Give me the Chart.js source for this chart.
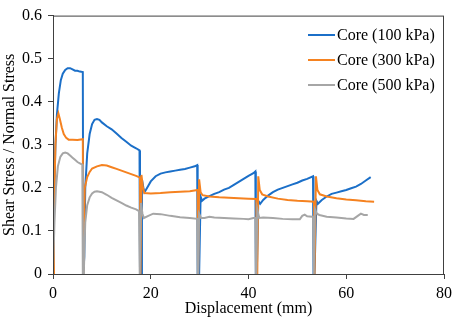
<!DOCTYPE html>
<html>
<head>
<meta charset="utf-8">
<script src="https://cdn.jsdelivr.net/npm/chart.js@4"></script>
<style>
  html, body { margin: 0; padding: 0; background: #fff; }
  .fontprobe { font-family: "Liberation Serif"; position: absolute; left: -999px; top: 0; }
</style>
</head>
<body>
<span class="fontprobe">Core 0.1</span>
<canvas id="shearChart" width="457" height="320"></canvas>
<script>
// Displacement (mm) vs shear stress / normal stress
const seriesLabels = ["Core (100 kPa)", "Core (300 kPa)", "Core (500 kPa)"];
const seriesColors = ["#1b6fc8", "#f58220", "#a6a6a6"];

const xTicks = [0, 20, 40, 60, 80];
const yTicks = ["0", "0.1", "0.2", "0.3", "0.4", "0.5", "0.6"];

const core100X = [0, 0.2, 0.5, 0.8, 1.2, 1.6, 2.0, 2.5, 3.0, 3.5, 4.0, 4.5, 5.0, 5.5, 6.1, 6.2,
  6.3, 6.4, 6.6, 7.0, 7.5, 8.0, 8.5, 9.0, 9.5, 10, 11, 12, 13, 14, 15, 16, 17, 17.7, 17.8,
  18.1, 18.2, 18.5, 18.7, 19, 19.5, 20, 21, 22, 23, 24, 25, 26, 27, 28, 29, 29.5, 29.6,
  29.9, 30.2, 30.5, 31, 32, 33, 34, 35, 36, 37, 38, 39, 40, 41, 41.4, 41.5,
  41.7, 42.0, 42.4, 43, 44, 45, 46, 47, 48, 49, 50, 51, 52, 53.2, 53.3,
  53.5, 53.9, 54.2, 55, 56, 57, 58, 59, 60, 61, 62, 63, 64, 65];
const core100Y = [0, 0.17, 0.3, 0.37, 0.42, 0.45, 0.465, 0.474, 0.478, 0.478, 0.475, 0.472, 0.472, 0.47, 0.469, 0,
  0, 0.04, 0.2, 0.28, 0.325, 0.348, 0.358, 0.36, 0.358, 0.352, 0.343, 0.336, 0.326, 0.316, 0.307, 0.298, 0.292, 0.287, 0,
  0, 0.22, 0.2, 0.19, 0.195, 0.205, 0.215, 0.227, 0.233, 0.236, 0.238, 0.24, 0.242, 0.244, 0.247, 0.25, 0.253, 0,
  0, 0.18, 0.17, 0.175, 0.181, 0.186, 0.19, 0.196, 0.2, 0.207, 0.214, 0.221, 0.228, 0.234, 0.238, 0,
  0, 0.17, 0.163, 0.172, 0.182, 0.19, 0.196, 0.2, 0.204, 0.208, 0.212, 0.217, 0.221, 0.227, 0,
  0, 0.17, 0.163, 0.172, 0.18, 0.186, 0.189, 0.192, 0.195, 0.199, 0.203, 0.209, 0.217, 0.225];

const core300X = [0, 0.2, 0.5, 0.8, 1.1, 1.4, 1.8, 2.2, 2.7, 3.2, 4, 5, 6.1, 6.2,
  6.3, 6.5, 7, 7.5, 8, 9, 10, 11, 12, 13, 14, 15, 16, 17, 17.8, 17.9,
  18.0, 18.1, 18.4, 18.7, 20, 22, 24, 26, 28, 29.6, 29.7,
  29.8, 29.9, 30.2, 30.6, 32, 34, 36, 38, 40, 41.6, 41.7,
  41.8, 42.0, 42.3, 42.8, 44, 46, 48, 50, 52, 53.4, 53.5,
  53.6, 53.8, 54.1, 54.6, 56, 58, 60, 62, 64, 65.7];
const core300Y = [0, 0.15, 0.3, 0.36, 0.373, 0.36, 0.34, 0.325, 0.316, 0.312, 0.312, 0.311, 0.313, 0,
  0, 0.2, 0.225, 0.237, 0.245, 0.25, 0.253, 0.252, 0.248, 0.244, 0.24, 0.236, 0.232, 0.228, 0.224, 0,
  0, 0.23, 0.2, 0.188, 0.187, 0.188, 0.19, 0.191, 0.192, 0.195, 0,
  0, 0.22, 0.19, 0.183, 0.18, 0.178, 0.177, 0.176, 0.175, 0.174, 0,
  0, 0.227, 0.195, 0.185, 0.18, 0.175, 0.172, 0.17, 0.169, 0.168, 0,
  0, 0.227, 0.195, 0.185, 0.18, 0.176, 0.173, 0.171, 0.169, 0.168];

const core500X = [0, 0.3, 0.6, 1, 1.5, 2, 2.5, 3, 3.5, 4, 4.5, 5, 5.5, 6.0, 6.1,
  6.3, 6.6, 7, 7.5, 8, 8.5, 9, 10, 11, 12, 13, 14, 15, 16, 17, 17.6, 17.7,
  17.8, 18.0, 18.3, 18.6, 19.5, 20.5, 22, 24, 26, 28, 29.5, 29.6,
  29.7, 29.9, 30.3, 31, 32, 33, 35, 37, 39, 40, 41, 41.4, 41.5,
  41.6, 41.8, 42.2, 43, 45, 47, 49, 50.5, 51, 51.5, 52, 53, 53.2, 53.3,
  53.4, 53.6, 54, 54.5, 56, 58, 60, 61.5, 62.5, 63, 63.6, 64.4];
const core500Y = [0, 0.12, 0.2, 0.25, 0.272, 0.28, 0.282, 0.28, 0.275, 0.27, 0.265, 0.26, 0.257, 0.254, 0,
  0, 0.12, 0.16, 0.178, 0.187, 0.191, 0.192, 0.19, 0.184, 0.177, 0.171, 0.165, 0.159, 0.154, 0.15, 0.146, 0,
  0, 0.165, 0.14, 0.13, 0.135, 0.14, 0.139, 0.135, 0.132, 0.13, 0.128, 0,
  0, 0.14, 0.13, 0.13, 0.133, 0.131, 0.13, 0.129, 0.128, 0.127, 0.13, 0.13, 0,
  0, 0.15, 0.13, 0.131, 0.13, 0.128, 0.127, 0.127, 0.135, 0.138, 0.134, 0.133, 0.133, 0,
  0, 0.15, 0.14, 0.137, 0.133, 0.131, 0.129, 0.128, 0.136, 0.14, 0.137, 0.137];

function toPoints(xs, ys) {
  return xs.map((x, i) => ({ x: x, y: ys[i] }));
}

const axisColor = "#404040";
const fontFamily = "'Liberation Serif', 'Times New Roman', serif";

// full box around the plot + legend drawn inside the plot area
const framePlugin = {
  id: "frame",
  afterDraw(chart) {
    const ctx = chart.ctx;
    const a = chart.chartArea;
    ctx.save();
    ctx.strokeStyle = axisColor;
    ctx.lineWidth = 1;
    ctx.strokeRect(a.left + 0.5, a.top + 0.5, a.right - a.left - 1, a.bottom - a.top);

    // legend
    ctx.font = "16px " + fontFamily;
    ctx.textBaseline = "middle";
    ctx.textAlign = "left";
    chart.data.datasets.forEach((ds, i) => {
      const y = 35 + i * 25;
      ctx.strokeStyle = ds.borderColor;
      ctx.lineWidth = 2;
      ctx.beginPath();
      ctx.moveTo(308, y);
      ctx.lineTo(335, y);
      ctx.stroke();
      ctx.fillStyle = "#000";
      ctx.fillText(ds.label, 337, y + 1);
    });
    ctx.restore();
  },
};

function drawChart() {
  const ctx = document.getElementById("shearChart").getContext("2d");

  new Chart(ctx, {
    type: "scatter",
    data: {
      datasets: [
        { label: seriesLabels[0], data: toPoints(core100X, core100Y), borderColor: seriesColors[0], order: 3 },
        { label: seriesLabels[1], data: toPoints(core300X, core300Y), borderColor: seriesColors[1], order: 2 },
        { label: seriesLabels[2], data: toPoints(core500X, core500Y), borderColor: seriesColors[2], order: 1 },
      ].map((ds) => ({
        ...ds,
        showLine: true,
        borderWidth: 2,
        pointRadius: 0,
        pointHoverRadius: 0,
        tension: 0,
        fill: false,
      })),
    },
    options: {
      responsive: false,
      animation: false,
      layout: { padding: { left: 0, right: 10, top: 7, bottom: 0 } },
      plugins: {
        legend: { display: false },
        tooltip: { enabled: false },
      },
      scales: {
        x: {
          type: "linear",
          min: 0,
          max: 80,
          afterBuildTicks: (scale) => {
            scale.ticks = xTicks.map((v) => ({ value: v }));
          },
          afterFit: (scale) => {
            scale.height = 46;
          },
          ticks: {
            color: "#000",
            font: { family: fontFamily, size: 16 },
            padding: 5,
            maxRotation: 0,
          },
          grid: {
            display: true,
            drawOnChartArea: false,
            drawTicks: true,
            tickLength: 5,
            color: axisColor,
          },
          border: { display: true, color: axisColor, width: 1 },
          title: {
            display: true,
            text: "Displacement (mm)",
            color: "#000",
            font: { family: fontFamily, size: 16 },
            padding: { top: 0, bottom: 2 },
          },
        },
        y: {
          type: "linear",
          min: 0,
          max: 0.6,
          afterBuildTicks: (scale) => {
            scale.ticks = yTicks.map((t) => ({ value: parseFloat(t) }));
          },
          afterFit: (scale) => {
            scale.width = 53;
          },
          ticks: {
            color: "#000",
            font: { family: fontFamily, size: 16 },
            padding: 6,
            callback: (value) => yTicks.find((t) => Math.abs(parseFloat(t) - value) < 1e-9) || "",
          },
          grid: {
            display: true,
            drawOnChartArea: false,
            drawTicks: true,
            tickLength: 5,
            color: axisColor,
          },
          border: { display: true, color: axisColor, width: 1 },
          title: {
            display: true,
            text: "Shear Stress / Normal Stress",
            color: "#000",
            font: { family: fontFamily, size: 16 },
            padding: { top: 0, bottom: 0 },
          },
        },
      },
    },
    plugins: [framePlugin],
  });
}

// make sure the serif face is ready before the canvas text is drawn
if (document.fonts && document.fonts.load) {
  document.fonts.load("16px 'Liberation Serif'").then(drawChart, drawChart);
} else {
  drawChart();
}
</script>
</body>
</html>
